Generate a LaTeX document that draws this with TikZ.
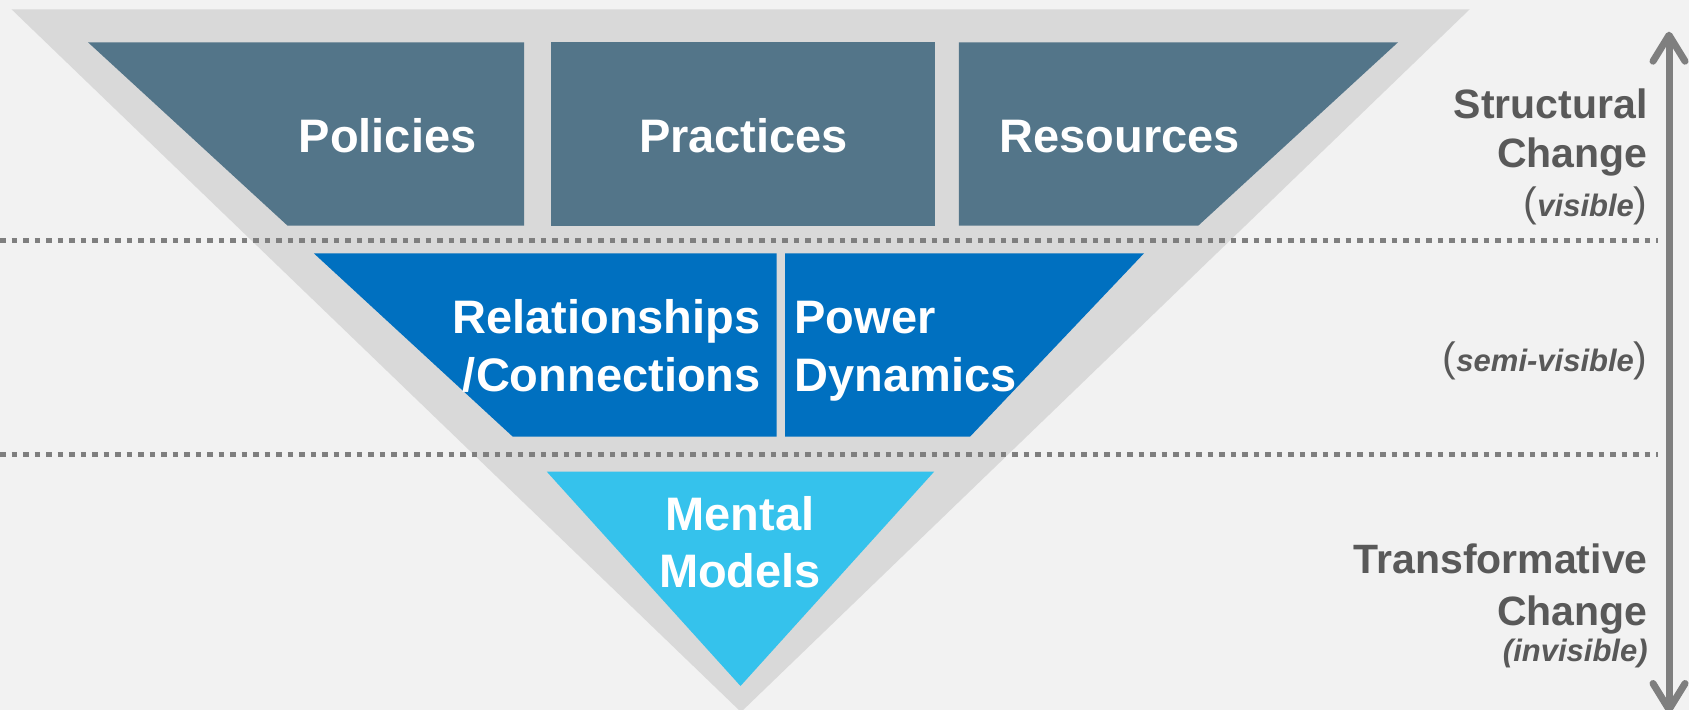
\documentclass[tikz,border=0pt]{standalone}
\usepackage{fontspec}
\setmainfont{Liberation Sans}
\usetikzlibrary{arrows.meta}

\definecolor{pagebg}{HTML}{F2F2F2}
\definecolor{framegray}{HTML}{D9D9D9}
\definecolor{slateblue}{HTML}{537589}
\definecolor{midblue}{HTML}{0070C0}
\definecolor{skyblue}{HTML}{35C2EC}
\definecolor{labelgray}{HTML}{595959}
\definecolor{rulegray}{HTML}{7F7F7F}

\begin{document}
\begin{tikzpicture}[x=0.5pt,y=-0.5pt,
  boxtext/.style={text=white, inner sep=0pt,
    font=\fontsize{23.5}{28}\selectfont\bfseries},
  sidetext/.style={text=labelgray, inner sep=0pt, anchor=base east,
    font=\fontsize{20.5}{24}\selectfont\bfseries},
  levelrule/.style={draw=rulegray, line width=2.3pt,
    dash pattern=on 2.8pt off 2.95pt},
  scalearrow/.style={draw=rulegray, line width=3.5pt,
    {Straight Barb[round, length=13pt, width=16pt]}-{Straight Barb[round, length=13pt, width=16pt]}}
]
\newcommand{\thinparen}[1]{{\mdseries\upshape\fontsize{20.5}{24}\selectfont #1}}
\newcommand{\subnote}[1]{{\bfseries\itshape\fontsize{15.5}{18}\selectfont #1}}

\useasboundingbox (0,0) rectangle (1689,710);
\fill[pagebg] (0,0) rectangle (1689,710);

% outer inverted triangle
\fill[framegray] (11.5,9.3) -- (1469.7,9.3) -- (741,712) -- cycle;

% top tier: structural elements
\fill[slateblue] (88,42.3) -- (524,42.3) -- (524,225.7) -- (287.6,225.7) -- cycle;
\fill[slateblue] (551,42.3) -- (935.2,42.3) -- (935.2,225.7) -- (551,225.7) -- cycle;
\fill[slateblue] (958.8,42.3) -- (1398,42.3) -- (1198.2,225.7) -- (958.8,225.7) -- cycle;

% middle tier: relational elements
\fill[midblue] (313.8,253.3) -- (776.5,253.3) -- (776.5,436.7) -- (512.8,436.7) -- cycle;
\fill[midblue] (785,253.3) -- (1144,253.3) -- (970,436.7) -- (785,436.7) -- cycle;

% bottom tier: mental models
\fill[skyblue] (546.8,471.7) -- (934.1,471.7) -- (740.5,686) -- cycle;

% level separators
\coordinate (ruleA-l) at (0,240.7);
\coordinate (ruleA-r) at (1658,240.7);
\coordinate (ruleB-l) at (0,454.3);
\coordinate (ruleB-r) at (1658,454.3);
\draw[levelrule] (ruleA-l) -- (ruleA-r);
\draw[levelrule] (ruleB-l) -- (ruleB-r);

% tier labels
\node[boxtext, anchor=base] (pol) at (387.5,152.7) {Policies};
\node[boxtext, anchor=base] (pra) at (743.6,152.5) {Practices};
\node[boxtext, anchor=base] (res) at (1119.6,153) {Resources};
\node[boxtext, anchor=base east] (rel1) at (761,333.3) {Relationships};
\node[boxtext, anchor=base east] (rel2) at (761,391.7) {/Connections};
\node[boxtext, anchor=base west] (pow1) at (794,333.3) {Power};
\node[boxtext, anchor=base west] (pow2) at (794,391.7) {Dynamics};
\node[boxtext, anchor=base] (men1) at (740,530) {Mental};
\node[boxtext, anchor=base] (men2) at (740,587.7) {Models};

% side scale
\coordinate (scaletop) at (1669,31.7);
\coordinate (scalebot) at (1669,713);
\draw[scalearrow] (scaletop) -- (scalebot);

\node[sidetext] (st1) at (1648,118.7) {Structural};
\node[sidetext] (st2) at (1648,167.6) {Change};
\node[sidetext] (st3) at (1648,216.7) {\thinparen{(}\subnote{visible}\thinparen{)}};
\node[sidetext] (sv) at (1648,371.7) {\thinparen{(}\subnote{semi-visible}\thinparen{)}};
\node[sidetext] (tr1) at (1648,573) {Transformative};
\node[sidetext] (tr2) at (1648,625) {Change};
\node[sidetext] (tr3) at (1648,661) {\subnote{(invisible)}};
\end{tikzpicture}
\end{document}
